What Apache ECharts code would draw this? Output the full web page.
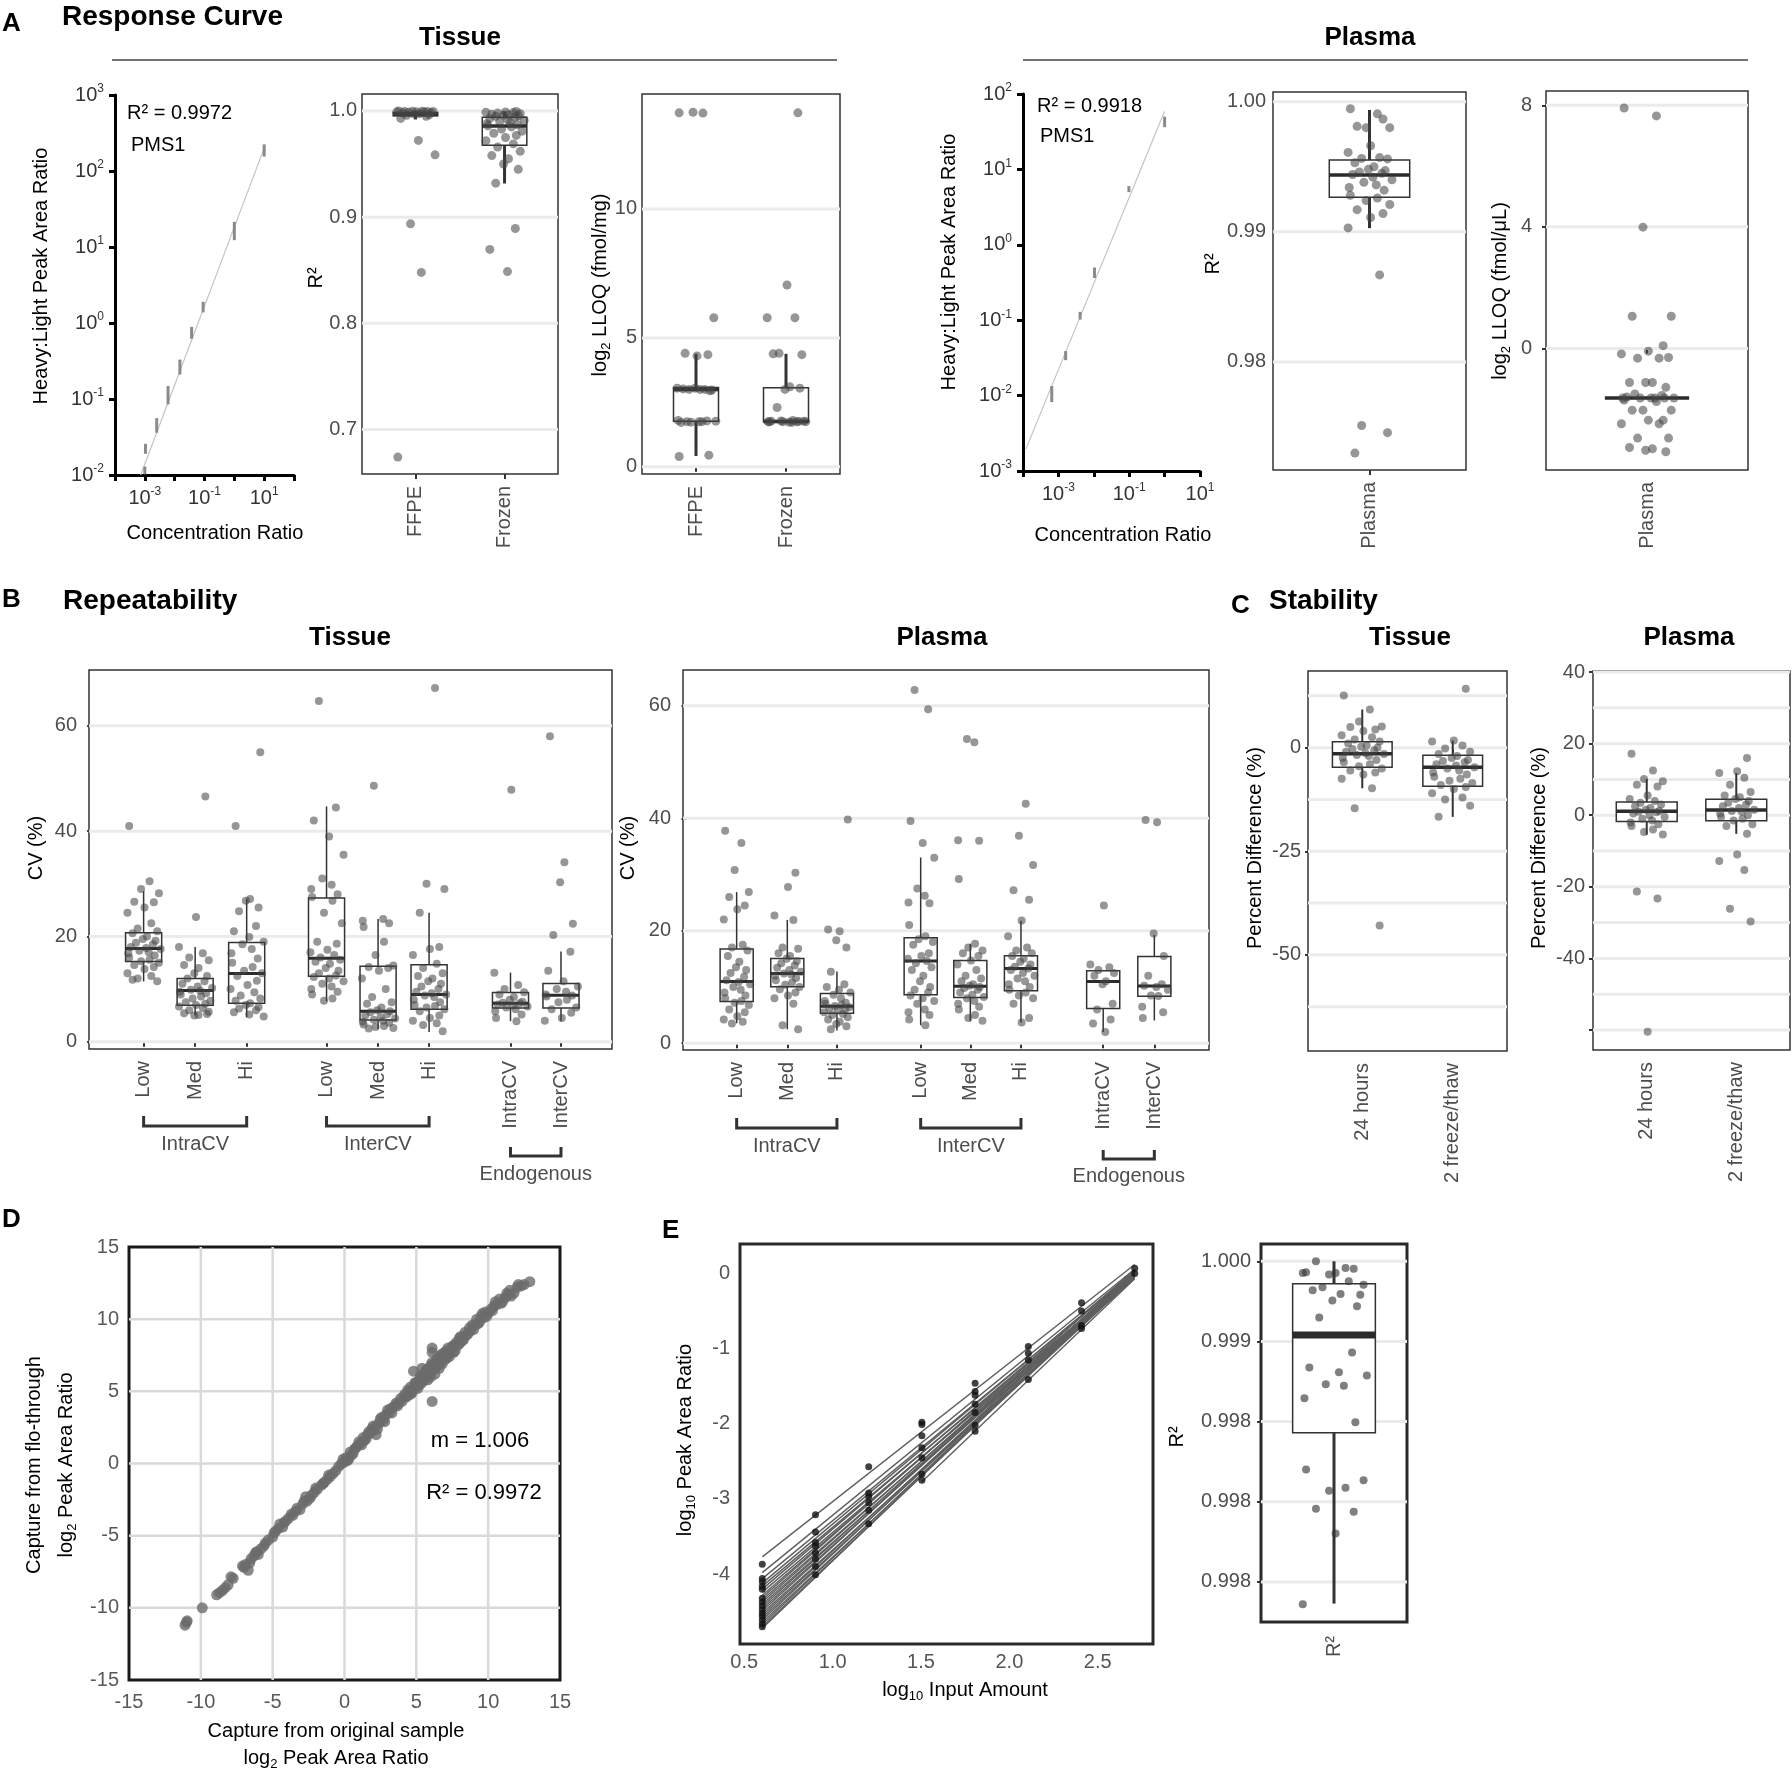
<!DOCTYPE html>
<html>
<head>
<meta charset="utf-8">
<title>PMS1 assay performance</title>
<script src="https://cdn.jsdelivr.net/npm/echarts@6.0.0/dist/echarts.min.js"></script>
<style>
  html, body { margin: 0; padding: 0; background: #fff; }
  #main { width: 1792px; height: 1775px; }
</style>
</head>
<body>
<div id="main"></div>
<script>
// ---------- A: response curve (PMS1) ----------
var tisConc    = [0.001, 0.00105, 0.0025, 0.006, 0.015, 0.037, 0.09, 1, 10];
var tisRatioLo = [0.0102, 0.019, 0.036, 0.085, 0.21, 0.62, 1.38, 12.3, 155];
var tisRatioHi = [0.0129, 0.0257, 0.056, 0.148, 0.33, 0.89, 1.9, 21.4, 224];
var tisFit     = [[0.00072, 0.0099], [10, 200]];
var plaConc    = [0.00065, 0.0016, 0.0041, 0.0105, 0.098, 1.0];
var plaRatioLo = [0.0082, 0.0295, 0.102, 0.363, 5.0, 36.3];
var plaRatioHi = [0.0134, 0.0389, 0.129, 0.50, 6.0, 50.1];
var plaFit     = [[0.00012, 0.00195], [1.0, 59]];

var tisTypes = ['FFPE', 'Frozen'];
// box stats: [low whisker, q1, median, q3, high whisker]
var tisR2Box = [[0.992, 0.9955, 0.9968, 0.9985, 1.0], [0.9317, 0.9678, 0.9858, 0.994, 0.9995]];
var tisR2Pts = [
  [1.0, 0.9998, 0.9997, 0.9996, 0.9995, 0.9994, 0.9993, 0.9992, 0.999, 0.9988, 0.9985, 0.998, 0.9975, 0.997,
   0.9965, 0.996, 0.995, 0.993, 0.9723, 0.9587, 0.8937, 0.8479, 0.6739],
  [0.9995, 0.999, 0.9988, 0.9985, 0.998, 0.9975, 0.997, 0.9965, 0.996, 0.9955, 0.995, 0.994, 0.993, 0.992, 0.991,
   0.99, 0.989, 0.988, 0.987, 0.986, 0.985, 0.983, 0.981, 0.979, 0.977, 0.975, 0.972, 0.969, 0.966, 0.962, 0.958,
   0.955, 0.95, 0.945, 0.932, 0.8893, 0.8696, 0.8487]
];
var tisLloqBox = [[0.42, 1.77, 3.0, 3.08, 4.38], [1.73, 1.75, 1.76, 3.07, 4.38]];
var tisLloqPts = [
  [13.73, 13.72, 13.75, 5.78, 4.4, 4.35, 4.3, 3.05, 3.0, 3.0, 2.98, 3.02, 3.0, 3.05, 2.95,
   1.75, 1.78, 1.72, 1.75, 1.77, 1.73, 1.75, 1.8, 0.45, 0.4],
  [13.73, 7.05, 5.78, 5.78, 4.4, 4.35, 4.38, 3.1, 3.0, 3.05, 2.3, 1.75, 1.77, 1.73, 1.75, 1.78,
   1.72, 1.75, 1.76, 1.74, 1.8, 1.75, 1.77]
];
var plaTypes = ['Plasma'];
var plaR2Box = [[0.99028, 0.99265, 0.99436, 0.99551, 0.99936]];
var plaR2Pts = [[0.99945, 0.99906, 0.998, 0.998, 0.9981, 0.99867, 0.99661, 0.9961, 0.9957, 0.99564, 0.9956, 0.9953,
  0.995, 0.9948, 0.9947, 0.9946, 0.9945, 0.9944, 0.9942, 0.994, 0.9938, 0.9936, 0.9934, 0.9932, 0.9928, 0.9926,
  0.9924, 0.9921, 0.9917, 0.9914, 0.9911, 0.9903, 0.98669, 0.97512, 0.97457, 0.973]];
var plaLloqBox = [[-1.63, -1.63, -1.63, -1.63, -1.63]];
var plaLloqPts = [[7.91, 7.65, 3.99, 1.06, 1.06, 0.09, -0.09, -0.18, -0.32, -0.32, -0.3, -1.12, -1.12, -1.12, -1.28,
  -1.5, -1.55, -1.6, -1.63, -1.63, -1.63, -1.63, -1.63, -1.63, -1.7, -1.75, -2.03, -2.03, -2.03, -2.36, -2.36,
  -2.48, -2.48, -2.95, -2.95, -3.26, -3.3, -3.35, -3.4]];

// ---------- B: repeatability ----------
var cvCats = ['Low', 'Med', 'Hi', 'Low', 'Med', 'Hi', 'IntraCV', 'InterCV'];
var cvGroups = ['IntraCV', 'InterCV', 'Endogenous'];
var cvTisBox = [
  [11.47, 15.24, 17.73, 20.7, 28.6], [5.05, 6.94, 9.73, 12.0, 18.0], [4.68, 7.32, 12.98, 18.87, 27.1],
  [7.7, 12.45, 15.85, 27.3, 44.7], [2.41, 4.15, 5.81, 14.34, 23.3], [1.88, 6.19, 8.98, 14.64, 24.5],
  [3.92, 6.41, 7.32, 9.36, 13.13], [3.92, 6.41, 8.83, 11.09, 17.13]
];
var cvTisPts = [
  [41.0, 30.5, 29.0, 28.2, 26.6, 26.5, 25.5, 24.5, 22.5, 21.5, 21.0, 20.6, 20.0, 19.5, 19.2, 18.8, 18.5, 18.0, 17.8,
   17.6, 17.3, 17.0, 16.8, 16.4, 16.0, 15.6, 15.3, 15.0, 14.6, 14.2, 13.8, 13.0, 12.5, 12.0, 11.5, 11.8],
  [46.6, 23.7, 18.0, 16.8, 16.0, 15.5, 14.6, 14.0, 13.0, 12.5, 12.0, 11.5, 11.0, 10.5, 10.2, 9.9, 9.7, 9.5, 9.2,
   9.0, 8.6, 8.2, 7.8, 7.5, 7.2, 7.0, 6.7, 6.4, 6.0, 5.7, 5.4, 5.1, 5.0, 5.3],
  [55.0, 41.0, 27.1, 26.8, 25.5, 24.8, 22.0, 21.0, 19.9, 19.0, 18.5, 17.6, 16.8, 15.8, 15.0, 14.2, 13.5, 13.0,
   12.5, 11.6, 10.8, 10.0, 9.4, 8.8, 8.2, 7.8, 7.3, 7.0, 6.6, 6.3, 6.0, 5.6, 5.2, 4.8],
  [64.7, 44.5, 42.0, 39.0, 35.5, 31.0, 29.8, 29.0, 28.0, 27.5, 26.8, 24.5, 22.5, 19.0, 18.6, 17.5, 17.0, 16.5,
   16.0, 15.6, 15.2, 14.8, 14.0, 13.5, 13.0, 12.6, 12.3, 12.0, 11.5, 11.0, 10.5, 10.0, 9.5, 9.0, 8.2, 7.8],
  [48.6, 23.3, 23.0, 22.5, 21.8, 19.0, 16.5, 14.5, 14.2, 14.0, 13.5, 12.0, 10.0, 8.5, 7.5, 7.2, 6.5, 6.0, 5.8,
   5.6, 5.3, 5.0, 4.7, 4.4, 4.2, 4.0, 3.8, 3.6, 3.3, 3.0, 2.8, 2.6, 2.5],
  [67.2, 30.0, 29.0, 24.5, 18.0, 17.6, 16.5, 14.8, 14.0, 13.0, 12.5, 12.0, 11.5, 11.0, 10.5, 10.0, 9.5, 9.2, 9.0,
   8.8, 8.5, 8.0, 7.5, 7.0, 6.8, 6.5, 6.2, 5.8, 5.0, 4.5, 4.0, 3.5, 3.2, 2.0],
  [47.85, 13.1, 10.8, 10.0, 9.4, 9.0, 8.5, 8.0, 7.6, 7.4, 7.3, 7.1, 6.9, 6.7, 6.5, 6.2, 5.8, 5.2, 4.5, 3.9],
  [58.0, 34.1, 30.3, 22.4, 20.3, 17.1, 13.5, 11.5, 10.5, 10.0, 9.5, 9.0, 8.8, 8.6, 8.0, 7.5, 6.5, 6.2, 5.5, 4.5, 4.0]
];
var cvPlaBox = [
  [3.54, 7.43, 10.97, 16.76, 26.87], [2.48, 10.05, 12.38, 15.07, 21.92], [2.27, 5.31, 6.58, 8.84, 12.73],
  [3.19, 8.63, 14.64, 18.74, 33.03], [3.9, 8.13, 10.12, 14.71, 17.68], [3.68, 9.34, 13.3, 15.56, 21.78],
  [1.98, 6.15, 10.97, 12.87, 12.87], [4.04, 8.35, 10.19, 15.42, 19.24]
];
var cvPlaPts = [
  [37.8, 35.6, 30.8, 26.9, 26.0, 24.5, 23.8, 22.0, 17.5, 17.0, 16.5, 15.5, 14.5, 13.5, 13.0, 12.5, 11.8, 11.2,
   10.9, 10.5, 10.0, 9.5, 9.0, 8.5, 8.0, 7.5, 7.2, 6.8, 6.0, 5.5, 4.8, 4.2, 3.8, 3.5],
  [30.3, 27.8, 22.7, 21.9, 17.0, 16.8, 16.0, 15.5, 15.0, 14.6, 14.2, 13.8, 13.4, 13.0, 12.7, 12.4, 12.2, 12.0,
   11.6, 11.2, 10.8, 10.4, 10.0, 9.6, 9.0, 8.5, 8.0, 7.0, 3.2, 2.5],
  [39.8, 20.2, 19.9, 18.3, 17.0, 12.7, 10.5, 10.0, 9.5, 9.0, 8.6, 8.0, 7.5, 7.2, 7.0, 6.8, 6.6, 6.4, 6.2, 6.0,
   5.8, 5.5, 5.2, 5.0, 4.6, 4.2, 3.8, 3.4, 3.0, 2.5],
  [62.8, 59.4, 39.5, 35.6, 33.0, 27.5, 26.2, 25.0, 24.9, 21.0, 19.0, 18.5, 18.0, 17.5, 16.0, 15.5, 15.0, 14.6,
   14.2, 13.5, 13.0, 12.0, 11.0, 10.0, 9.5, 9.0, 8.5, 8.0, 7.5, 7.0, 6.0, 5.5, 5.0, 4.2, 3.2],
  [54.1, 53.5, 36.1, 36.0, 29.2, 17.7, 17.0, 16.5, 16.0, 15.5, 14.7, 14.0, 13.0, 12.0, 11.5, 11.0, 10.5, 10.2,
   10.0, 9.8, 9.5, 9.0, 8.6, 8.2, 8.0, 7.5, 7.0, 6.5, 6.0, 5.0, 4.5, 4.0],
  [42.6, 36.9, 31.7, 27.2, 25.5, 21.8, 19.0, 17.0, 16.5, 16.0, 15.5, 15.0, 14.5, 14.0, 13.6, 13.3, 13.0, 12.5,
   12.0, 11.5, 11.0, 10.5, 10.0, 9.5, 9.0, 8.5, 8.0, 7.0, 4.5, 3.7],
  [24.5, 14.0, 13.5, 13.0, 12.5, 12.0, 11.0, 10.5, 7.0, 6.0, 4.2, 3.5, 2.0],
  [39.7, 39.3, 19.5, 15.5, 12.0, 10.5, 10.2, 10.0, 9.5, 8.5, 8.4, 6.5, 5.5, 4.5]
];

// ---------- C: stability ----------
var stabCats = ['24 hours', '2 freeze/thaw'];
var stabTisBox = [[-9.8, -4.71, -1.44, 1.44, 9.21], [-16.7, -9.32, -4.71, -1.83, 1.72]];
var stabTisPts = [
  [12.6, 9.2, 6.3, 5.1, 5.0, 4.4, 4.0, 3.0, 2.5, 2.0, 1.5, 1.0, 0.5, 0.2, 0.0, -0.3, -0.6, -1.0, -1.3, -1.5, -1.8,
   -2.0, -2.5, -3.0, -3.5, -4.0, -4.5, -5.0, -5.5, -6.0, -6.5, -7.5, -9.8, -14.6, -42.9],
  [14.2, 1.7, 1.5, 0.5, -0.2, -1.0, -1.5, -2.0, -2.5, -3.0, -3.2, -3.5, -4.0, -4.3, -4.7, -5.0, -5.5, -6.0, -6.5,
   -7.0, -7.5, -8.0, -8.5, -9.0, -9.5, -10.0, -11.0, -12.0, -12.5, -14.0, -16.7]
];
var stabPlaBox = [[-5.45, -1.78, 1.11, 3.67, 10.1], [-5.2, -1.55, 1.45, 4.45, 11.8]];
var stabPlaPts = [
  [17.2, 12.5, 10.1, 9.5, 8.5, 8.0, 5.5, 4.5, 4.0, 3.5, 3.0, 2.5, 2.0, 1.5, 1.2, 1.0, 0.8, 0.5, 0.0, -0.5, -1.0,
   -1.5, -2.0, -2.5, -3.0, -4.0, -4.7, -5.4, -21.3, -23.3, -60.5],
  [16.0, 12.3, 11.8, 10.5, 8.5, 6.5, 5.5, 5.0, 4.5, 4.0, 3.5, 3.0, 2.5, 2.0, 1.5, 1.2, 1.0, 0.5, 0.0, -0.5, -1.0,
   -1.5, -2.5, -3.0, -5.2, -11.0, -12.8, -15.3, -26.1, -29.7]
];

// ---------- D: flo-through vs original (log2 peak area ratio) ----------
var captureOrigFlow = [
  [-11.1, -11.2], [-11.0, -11.0], [-10.95, -10.9], [-9.9, -10.0], [-8.9, -9.1], [-8.7, -8.95], [-8.5, -8.8],
  [-8.3, -8.6], [-8.1, -8.4], [-7.9, -7.85], [-7.75, -7.95], [-7.1, -7.1], [-7.0, -7.2], [-6.9, -7.0], [-6.7, -7.4],
  [-6.6, -6.9], [-6.5, -6.6], [-6.3, -6.4], [-6.2, -6.2], [-6.1, -6.1], [-6.0, -6.3], [-5.8, -5.9], [-5.6, -5.7],
  [-5.5, -5.5], [-5.3, -5.3], [-5.0, -5.1], [-4.9, -4.8], [-4.8, -4.7], [-4.6, -4.5], [-4.5, -4.2], [-4.3, -4.4],
  [-4.2, -4.1], [-4.1, -4.0], [-3.9, -3.8], [-3.7, -3.5], [-3.6, -3.6], [-3.4, -3.3], [-3.3, -3.1], [-3.1, -3.2],
  [-2.9, -2.8], [-2.8, -2.6], [-2.7, -2.3], [-2.6, -2.6], [-2.4, -2.4], [-2.3, -2.2], [-2.1, -2.0], [-2.0, -1.7],
  [-1.9, -1.8], [-1.6, -1.5], [-1.5, -1.4], [-1.4, -1.3], [-1.2, -1.1], [-1.1, -0.8], [-1.0, -0.9], [-0.8, -0.7],
  [-0.6, -0.5], [-0.4, -0.2], [-0.2, 0.0], [-0.1, 0.3], [0.0, 0.1], [0.1, 0.4], [0.2, 0.2], [0.3, 0.3], [0.4, 0.8],
  [0.5, 0.6], [0.6, 0.7], [0.7, 1.0], [0.8, 1.1], [0.9, 1.2], [1.0, 1.5], [1.1, 1.4], [1.2, 1.3], [1.3, 1.8],
  [1.4, 1.6], [1.5, 1.7], [1.6, 2.0], [1.7, 2.2], [1.8, 2.1], [1.9, 2.4], [2.0, 2.3], [2.0, 2.6], [2.2, 2.6],
  [2.2, 2.0], [2.3, 2.4], [2.4, 2.8], [2.5, 3.1], [2.6, 3.2], [2.7, 3.0], [2.8, 2.9], [2.9, 3.4], [3.0, 3.7],
  [3.1, 3.5], [3.2, 3.8], [3.3, 3.5], [3.4, 3.9], [3.5, 4.0], [3.6, 4.2], [3.7, 4.0], [3.8, 4.2], [3.9, 4.5],
  [4.0, 4.3], [4.1, 4.6], [4.2, 4.8], [4.3, 4.6], [4.4, 4.7], [4.4, 5.1], [4.5, 5.0], [4.6, 5.3], [4.6, 4.8],
  [4.7, 4.9], [4.8, 6.4], [4.9, 5.4], [4.9, 5.6], [5.0, 5.6], [5.0, 5.3], [5.1, 5.2], [5.2, 5.8], [5.2, 5.5],
  [5.3, 5.5], [5.3, 6.1], [5.4, 6.0], [5.4, 6.6], [5.5, 5.7], [5.5, 6.0], [5.6, 6.3], [5.6, 5.9], [5.7, 6.1],
  [5.7, 6.5], [5.8, 5.8], [5.8, 6.3], [5.9, 6.6], [5.9, 6.2], [6.0, 6.4], [6.0, 6.0], [6.0, 6.8], [6.1, 7.0],
  [6.1, 8.0], [6.1, 7.7], [6.1, 4.3], [6.2, 6.7], [6.2, 6.5], [6.3, 6.9], [6.3, 6.2], [6.4, 7.2], [6.4, 6.7],
  [6.5, 6.8], [6.5, 7.3], [6.6, 7.1], [6.6, 6.6], [6.7, 7.5], [6.7, 7.0], [6.8, 6.9], [6.8, 7.6], [6.9, 7.4],
  [7.0, 7.7], [7.0, 7.2], [7.1, 7.3], [7.1, 7.8], [7.2, 8.0], [7.3, 7.6], [7.3, 7.4], [7.4, 7.9], [7.5, 8.1],
  [7.6, 8.2], [7.6, 7.7], [7.7, 7.8], [7.8, 8.4], [7.9, 8.2], [8.0, 8.3], [8.0, 8.7], [8.1, 8.8], [8.2, 8.5],
  [8.3, 8.6], [8.4, 9.1], [8.5, 8.9], [8.6, 9.0], [8.7, 9.4], [8.8, 9.2], [8.9, 9.6], [9.0, 9.3], [9.1, 9.6],
  [9.2, 10.0], [9.3, 9.7], [9.4, 9.8], [9.5, 10.2], [9.6, 10.4], [9.7, 10.1], [9.8, 10.5], [9.9, 10.2],
  [10.0, 10.4], [10.2, 10.7], [10.3, 10.6], [10.4, 10.9], [10.5, 11.2], [10.6, 11.0], [10.8, 11.4], [10.9, 11.1],
  [11.0, 11.2], [11.2, 11.5], [11.3, 11.8], [11.4, 11.7], [11.5, 12.0], [11.6, 11.6], [11.8, 11.8], [12.0, 12.2],
  [12.1, 12.4], [12.3, 12.3], [12.5, 12.4], [12.9, 12.6]
];

// ---------- E: linearity (log10 input amount vs log10 peak area ratio) ----------
var inputAmount = [4, 8, 16, 32, 64, 128, 256, 512];
var peakRatioDots = [
  [-3.87, -4.06, -4.1, -4.16, -4.2, -4.32, -4.37, -4.42, -4.47, -4.52, -4.56, -4.61, -4.66, -4.7],
  [-3.21, -3.44, -3.58, -3.63, -3.72, -3.8, -3.9, -4.01],
  [-2.57, -2.92, -2.97, -3.05, -3.15, -3.33],
  [-1.98, -2.01, -2.16, -2.32, -2.45, -2.67, -2.75],
  [-1.46, -1.57, -1.62, -1.74, -1.85, -2.02, -2.1],
  [-0.97, -1.06, -1.15, -1.41],
  [-0.39, -0.5, -0.69, -0.73],
  [0.07, 0.0]
];
// fitted lines: [start amount, log10 ratio, end amount, log10 ratio]
var fitLines = [
  [4, -3.77, 512, 0.12], [4, -3.98, 512, 0.06], [4, -4.06, 512, 0.02], [4, -4.12, 512, 0.04], [4, -4.16, 512, -0.02],
  [4, -4.2, 512, 0.03], [4, -4.24, 512, -0.04], [4, -4.28, 512, 0.0], [4, -4.31, 512, 0.05], [4, -4.34, 512, -0.03],
  [4, -4.37, 512, 0.01], [4, -4.4, 512, -0.05], [4, -4.43, 512, 0.02], [4, -4.46, 512, -0.01], [4, -4.49, 512, 0.04],
  [4, -4.52, 512, -0.06], [4, -4.55, 512, 0.0], [4, -4.58, 512, -0.03], [4, -4.61, 512, 0.03], [4, -4.64, 512, -0.05],
  [4, -4.67, 512, 0.01], [4, -4.7, 512, -0.02], [4, -4.72, 512, 0.02], [32, -2.77, 512, -0.07]
];
var linR2Box = [[0.997865, 0.99893, 0.99954, 0.99986, 1.0]];
var linR2Pts = [[0.999931, 0.999958, 0.999917, 0.999854, 1.0, 0.999954, 0.999927, 0.999927, 0.999875, 0.999838,
  0.999792, 0.999819, 0.999796, 0.999756, 0.999719, 0.99965, 0.999431, 0.999337, 0.999308, 0.999288, 0.999233,
  0.999223, 0.999146, 0.998996, 0.998702, 0.998587, 0.998569, 0.998635, 0.998456, 0.998438, 0.998302, 0.99786]];
var linR2Ticks = [1.0, 0.9995, 0.999, 0.9985, 0.998];
var linR2TickLabels = ['1.000', '0.999', '0.998', '0.998', '0.998'];

// ================= build =================
var FONT = '"Liberation Sans", Arial, Helvetica, sans-serif';
var JIT = [-0.85, 0.35, -0.15, 0.9, -0.55, 0.6, 0.05, -0.95, 0.45, -0.35, 0.8, -0.65, 0.2, -0.05, 0.7, -0.45,
  0.55, -0.75, 0.15, 1.0, -0.25, 0.3, -0.9, 0.65];
var grids = [], xAxes = [], yAxes = [], series = [], gfx = [];

function nearest(arr, v) {
  var b = 0;
  for (var k = 1; k < arr.length; k++) if (Math.abs(arr[k] - v) < Math.abs(arr[b] - v)) b = k;
  return b;
}
function px(s, v) { return s.l + (v - s.x0) / (s.x1 - s.x0) * s.w; }
function lab(extra) {
  var o = { color: '#4d4d4d', fontSize: 20, fontFamily: FONT };
  for (var k in extra) o[k] = extra[k];
  return o;
}
function panel(s) {
  var i = grids.length;
  grids.push({ left: s.l, top: s.t, width: s.w, height: s.h, show: !!s.border, borderWidth: s.border || 0,
    borderColor: s.bc || '#333', backgroundColor: 'rgba(0,0,0,0)', outerBoundsMode: 'none', containLabel: false });
  return i;
}
function catX(gi, s, xs, names, margin) {
  xAxes.push({ gridIndex: gi, type: 'value', min: s.x0, max: s.x1, axisLine: { show: false }, splitLine: { show: false },
    axisTick: { show: true, customValues: xs, length: 5, lineStyle: { color: '#333', width: 2 } },
    axisLabel: lab({ customValues: xs, rotate: 90, margin: margin || 12,
      formatter: function (v) { return names[nearest(xs, v)]; } }) });
}
function valY(gi, s, ticks, labels, fmt, margin, tickLen) {
  yAxes.push({ gridIndex: gi, type: 'value', min: s.y0, max: s.y1, axisLine: { show: false }, splitLine: { show: false },
    axisTick: { show: tickLen > 0, customValues: ticks, length: tickLen || 0, lineStyle: { color: '#333', width: 2 } },
    axisLabel: lab({ customValues: labels, margin: margin, formatter: fmt }) });
}
function hLines(gi, s, vals, color, width) {
  series.push({ type: 'custom', xAxisIndex: gi, yAxisIndex: gi, z: 1, silent: true,
    data: vals.map(function (v) { return [s.x0, v]; }),
    renderItem: function (params, api) {
      var cs = params.coordSys, y = api.coord([api.value(0), api.value(1)])[1];
      return { type: 'line', shape: { x1: cs.x, y1: y, x2: cs.x + cs.width, y2: y }, style: { stroke: color, lineWidth: width } };
    } });
}
function vLines(gi, s, vals, color, width) {
  series.push({ type: 'custom', xAxisIndex: gi, yAxisIndex: gi, z: 1, silent: true,
    data: vals.map(function (v) { return [v, s.y0]; }),
    renderItem: function (params, api) {
      var cs = params.coordSys, x = api.coord([api.value(0), api.value(1)])[0];
      return { type: 'line', shape: { x1: x, y1: cs.y, x2: x, y2: cs.y + cs.height }, style: { stroke: color, lineWidth: width } };
    } });
}
function boxes(gi, xs, stats, halfW, st) {
  series.push({ type: 'custom', xAxisIndex: gi, yAxisIndex: gi, z: 3, silent: true,
    data: stats.map(function (b, i) { return [xs[i], b[0], b[1], b[2], b[3], b[4]]; }),
    renderItem: function (params, api) {
      var x = api.value(0);
      var p = [1, 2, 3, 4, 5].map(function (d) { return api.coord([x, api.value(d)]); });
      var xl = api.coord([x - halfW, api.value(3)])[0], xr = api.coord([x + halfW, api.value(3)])[0];
      var sk = { stroke: '#333', lineWidth: st.whisker };
      return { type: 'group', children: [
        { type: 'line', shape: { x1: p[0][0], y1: p[0][1], x2: p[1][0], y2: p[1][1] }, style: sk },
        { type: 'line', shape: { x1: p[3][0], y1: p[3][1], x2: p[4][0], y2: p[4][1] }, style: sk },
        { type: 'rect', shape: { x: xl, y: p[3][1], width: xr - xl, height: p[1][1] - p[3][1] },
          style: { fill: '#fff', stroke: '#333', lineWidth: st.edge } },
        { type: 'line', shape: { x1: xl, y1: p[2][1], x2: xr, y2: p[2][1] }, style: { stroke: '#2b2b2b', lineWidth: st.median } }
      ] };
    } });
}
function points(gi, xs, pts, jw, size, color) {
  var data = [];
  pts.forEach(function (arr, ci) {
    arr.forEach(function (v, j) { data.push([xs[ci] + JIT[(j + ci * 5) % JIT.length] * jw, v]); });
  });
  series.push({ type: 'scatter', xAxisIndex: gi, yAxisIndex: gi, z: 4, silent: true, symbolSize: size,
    data: data, itemStyle: { color: color } });
}
function txt(x, y, text, o) {
  o = o || {};
  var st = { text: text, fill: o.color || '#000', fontSize: o.size || 20, fontFamily: FONT,
    fontWeight: o.bold ? 'bold' : 'normal', align: o.align || 'center', verticalAlign: 'middle',
    textAlign: o.align || 'center', textVerticalAlign: 'middle' };
  if (o.rich) { st.rich = o.rich; st.lineHeight = 26; }
  gfx.push({ type: 'text', x: x, y: y, rotation: o.rot || 0, silent: true, z: 100, style: st });
}
var SUB = { sub: { fontSize: 13, lineHeight: 13, verticalAlign: 'bottom', fontFamily: FONT, fill: '#000', color: '#000' } };
function hline(x1, y1, x2, y2, w, c) {
  gfx.push({ type: 'line', silent: true, z: 100, shape: { x1: x1, y1: y1, x2: x2, y2: y2 }, style: { stroke: c || '#444', lineWidth: w } });
}
function bracket(x1, x2, yTop, yBot) {
  gfx.push({ type: 'polyline', silent: true, z: 100, shape: { points: [[x1, yTop], [x1, yBot], [x2, yBot], [x2, yTop]] },
    style: { stroke: '#333', lineWidth: 3, fill: null } });
}

// ----- response curve panels -----
function expLabel(v) { return '10{s|' + v + '}'; }
var EXPRICH = { s: { fontSize: 12, lineHeight: 12, verticalAlign: 'top', color: '#333', fontFamily: FONT } };
function responsePanel(s, conc, lo, hi, fit) {
  var gi = panel(s);
  xAxes.push({ gridIndex: gi, type: 'value', min: s.x0, max: s.x1, interval: 1, splitLine: { show: false },
    axisLine: { show: true, onZero: false, lineStyle: { color: '#000', width: 3 } },
    axisTick: { show: true, length: 6, lineStyle: { color: '#000', width: 3 } },
    axisLabel: { color: '#333', fontSize: 20, fontFamily: FONT, margin: 11, lineHeight: 24, rich: EXPRICH,
      formatter: function (v) { return (v % 2 !== 0) ? expLabel(v) : ''; } } });
  yAxes.push({ gridIndex: gi, type: 'value', min: s.y0, max: s.y1, interval: 1, splitLine: { show: false },
    axisLine: { show: true, onZero: false, lineStyle: { color: '#000', width: 3 } },
    axisTick: { show: true, length: 6, lineStyle: { color: '#000', width: 3 } },
    axisLabel: { color: '#333', fontSize: 20, fontFamily: FONT, margin: 11, lineHeight: 24, rich: EXPRICH,
      formatter: function (v) { return expLabel(v); } } });
  series.push({ type: 'line', xAxisIndex: gi, yAxisIndex: gi, z: 2, silent: true, symbol: 'none',
    data: fit.map(function (p) { return [Math.log10(p[0]), Math.log10(p[1])]; }),
    lineStyle: { color: '#c4c4c4', width: 1.2 } });
  series.push({ type: 'custom', xAxisIndex: gi, yAxisIndex: gi, z: 3, silent: true,
    data: conc.map(function (c, i) { return [Math.log10(c), Math.log10(lo[i]), Math.log10(hi[i])]; }),
    renderItem: function (params, api) {
      var a = api.coord([api.value(0), api.value(1)]), b = api.coord([api.value(0), api.value(2)]);
      return { type: 'line', shape: { x1: a[0], y1: a[1], x2: b[0], y2: b[1] }, style: { stroke: '#8a8a8a', lineWidth: 3 } };
    } });
}

var sA1 = { l: 115, t: 95, w: 179, h: 380, x0: -4, x1: 2, y0: -2, y1: 3 };
var sA2 = { l: 362, t: 94, w: 196, h: 380, x0: 0.4, x1: 2.6, y0: 0.658, y1: 1.016, border: 1.5 };
var sA3 = { l: 642, t: 94, w: 198, h: 380, x0: 0.4, x1: 2.6, y0: -0.28, y1: 14.46, border: 1.5 };
var sA4 = { l: 1023, t: 94, w: 177, h: 377, x0: -4, x1: 1, y0: -3, y1: 2 };
var sA5 = { l: 1273, t: 92, w: 193, h: 378, x0: 0.4, x1: 1.6, y0: 0.9717, y1: 1.00074, border: 1.5 };
var sA6 = { l: 1546, t: 91, w: 202, h: 379, x0: 0.4, x1: 1.6, y0: -4.0, y1: 8.47, border: 1.5 };
var sB1 = { l: 89, t: 670, w: 523, h: 379, x0: -0.06, x1: 10.09, y0: -1.37, y1: 70.6, border: 1.5 };
var sB2 = { l: 683, t: 670, w: 526, h: 380, x0: -0.07, x1: 10.42, y0: -1.21, y1: 66.37, border: 1.5 };
var sC1 = { l: 1308, t: 671, w: 199, h: 380, x0: 0.4, x1: 2.6, y0: -73.2, y1: 18.5, border: 1.5 };
var sC2 = { l: 1593, t: 671, w: 197, h: 379, x0: 0.4, x1: 2.6, y0: -65.6, y1: 40.3, border: 1.5 };
var sD  = { l: 129, t: 1247, w: 431, h: 433, x0: -15, x1: 15, y0: -15, y1: 15, border: 3, bc: '#1a1a1a' };
var sE1 = { l: 740, t: 1244, w: 413, h: 400, x0: 0.476, x1: 2.8126, y0: -4.93, y1: 0.393, border: 3, bc: '#2a2a2a' };
var sE2 = { l: 1261, t: 1244, w: 146, h: 378, x0: 0.4, x1: 1.6, y0: 0.99775, y1: 1.000108, border: 3, bc: '#2a2a2a' };

var PT = 'rgba(68,68,68,0.7)';
var BOXA = { whisker: 3, edge: 1.5, median: 3.5 };

// A1, A4
responsePanel(sA1, tisConc, tisRatioLo, tisRatioHi, tisFit);
responsePanel(sA4, plaConc, plaRatioLo, plaRatioHi, plaFit);

// A2
(function () {
  var gi = panel(sA2), xs = [1, 2];
  catX(gi, sA2, xs, tisTypes, 12);
  var t = [0.7, 0.8, 0.9, 1.0];
  valY(gi, sA2, t, t, function (v) { return v.toFixed(1); }, 5, 0);
  hLines(gi, sA2, t, '#ebebeb', 3);
  boxes(gi, xs, tisR2Box, 0.25, BOXA);
  points(gi, xs, tisR2Pts, 0.22, 9, PT);
})();
// A3
(function () {
  var gi = panel(sA3), xs = [1, 2];
  catX(gi, sA3, xs, tisTypes, 12);
  var t = [0, 5, 10];
  valY(gi, sA3, t, t, function (v) { return String(v); }, 5, 0);
  hLines(gi, sA3, t, '#ebebeb', 3);
  boxes(gi, xs, tisLloqBox, 0.25, BOXA);
  points(gi, xs, tisLloqPts, 0.22, 9, PT);
})();
// A5
(function () {
  var gi = panel(sA5), xs = [1];
  catX(gi, sA5, xs, plaTypes, 12);
  var t = [0.98, 0.99, 1.0];
  valY(gi, sA5, t, t, function (v) { return v.toFixed(2); }, 7, 0);
  hLines(gi, sA5, t, '#ebebeb', 3);
  boxes(gi, xs, plaR2Box, 0.25, BOXA);
  points(gi, xs, plaR2Pts, 0.14, 9, PT);
})();
// A6
(function () {
  var gi = panel(sA6), xs = [1];
  catX(gi, sA6, xs, plaTypes, 12);
  var t = [0, 4, 8];
  valY(gi, sA6, t, t, function (v) { return String(v); }, 14, 4);
  hLines(gi, sA6, t, '#ebebeb', 3);
  boxes(gi, xs, plaLloqBox, 0.25, BOXA);
  points(gi, xs, plaLloqPts, 0.16, 9, PT);
})();

// B1, B2
var cvPosT = [1, 2, 3, 4.55, 5.55, 6.54, 8.12, 9.1];
var cvPosP = [1, 2.01, 3.0, 4.67, 5.66, 6.67, 8.31, 9.33];
function cvPanel(s, xs, box, pts, hw, jw) {
  var gi = panel(s);
  catX(gi, s, xs, cvCats, 12);
  var t = [0, 20, 40, 60];
  valY(gi, s, t, t, function (v) { return String(v); }, 12, 5);
  hLines(gi, s, t, '#ebebeb', 3);
  boxes(gi, xs, box, hw, { whisker: 1.5, edge: 1.5, median: 3 });
  points(gi, xs, pts, jw, 8, PT);
}
cvPanel(sB1, cvPosT, cvTisBox, cvTisPts, 0.35, 0.33);
cvPanel(sB2, cvPosP, cvPlaBox, cvPlaPts, 0.33, 0.27);

// C1, C2
(function () {
  var gi = panel(sC1), xs = [1, 2];
  catX(gi, sC1, xs, stabCats, 12);
  var t = [0, -25, -50];
  valY(gi, sC1, t, t, function (v) { return String(v); }, 7, 3);
  hLines(gi, sC1, [12.5, 0, -12.5, -25, -37.5, -50, -62.5], '#ebebeb', 3);
  boxes(gi, xs, stabTisBox, 0.33, { whisker: 2, edge: 1.5, median: 3.5 });
  points(gi, xs, stabTisPts, 0.24, 8, PT);
})();
(function () {
  var gi = panel(sC2), xs = [1, 2];
  catX(gi, sC2, xs, stabCats, 12);
  valY(gi, sC2, [40, 20, 0, -20, -40, -60], [40, 20, 0, -20, -40], function (v) { return String(v); }, 8, 4);
  hLines(gi, sC2, [40, 30, 20, 10, 0, -10, -20, -30, -40, -50, -60], '#ebebeb', 3);
  boxes(gi, xs, stabPlaBox, 0.34, { whisker: 2, edge: 1.5, median: 3.5 });
  points(gi, xs, stabPlaPts, 0.2, 8, PT);
})();

// D
(function () {
  var gi = panel(sD);
  xAxes.push({ gridIndex: gi, type: 'value', min: -15, max: 15, interval: 5, axisLine: { show: false },
    axisTick: { show: false }, splitLine: { show: false }, axisLabel: lab({ color: '#595959', margin: 12 }) });
  yAxes.push({ gridIndex: gi, type: 'value', min: -15, max: 15, interval: 5, axisLine: { show: false },
    axisTick: { show: false }, splitLine: { show: false }, axisLabel: lab({ color: '#595959', margin: 10 }) });
  hLines(gi, sD, [-10, -5, 0, 5, 10], '#d9d9d9', 2.5);
  vLines(gi, sD, [-10, -5, 0, 5, 10], '#d9d9d9', 2.5);
  series.push({ type: 'scatter', xAxisIndex: gi, yAxisIndex: gi, z: 4, silent: true, symbolSize: 11,
    data: captureOrigFlow, itemStyle: { color: '#6b6b6b' } });
})();

// E1
(function () {
  var gi = panel(sE1);
  var xt = [0.5, 1.0, 1.5, 2.0, 2.5], yt = [0, -1, -2, -3, -4];
  xAxes.push({ gridIndex: gi, type: 'value', min: sE1.x0, max: sE1.x1, axisLine: { show: false }, splitLine: { show: false },
    axisTick: { show: false }, axisLabel: lab({ customValues: xt, margin: 8, color: '#555', formatter: function (v) { return v.toFixed(1); } }) });
  yAxes.push({ gridIndex: gi, type: 'value', min: sE1.y0, max: sE1.y1, axisLine: { show: false }, splitLine: { show: false },
    axisTick: { show: false }, axisLabel: lab({ customValues: yt, margin: 10, color: '#555', formatter: function (v) { return String(v); } }) });
  series.push({ type: 'custom', xAxisIndex: gi, yAxisIndex: gi, z: 3, silent: true,
    data: fitLines.map(function (f) { return [Math.log10(f[0]), f[1], Math.log10(f[2]), f[3]]; }),
    renderItem: function (params, api) {
      var a = api.coord([api.value(0), api.value(1)]), b = api.coord([api.value(2), api.value(3)]);
      return { type: 'line', shape: { x1: a[0], y1: a[1], x2: b[0], y2: b[1] }, style: { stroke: '#5e5e5e', lineWidth: 1.4 } };
    } });
  var dots = [];
  peakRatioDots.forEach(function (arr, i) { arr.forEach(function (v) { dots.push([Math.log10(inputAmount[i]), v]); }); });
  series.push({ type: 'scatter', xAxisIndex: gi, yAxisIndex: gi, z: 4, silent: true, symbolSize: 7,
    data: dots, itemStyle: { color: '#111' } });
})();

// E2
(function () {
  var gi = panel(sE2), xs = [1];
  catX(gi, sE2, xs, ['R²'], 14);
  xAxes[xAxes.length - 1].axisTick.show = false;
  valY(gi, sE2, linR2Ticks, linR2Ticks, function (v) { return linR2TickLabels[nearest(linR2Ticks, v)]; }, 10, 4);
  hLines(gi, sE2, linR2Ticks, '#ebebeb', 3);
  boxes(gi, xs, linR2Box, 0.34, { whisker: 3, edge: 1.5, median: 7 });
  points(gi, xs, linR2Pts, 0.27, 8, 'rgba(55,55,55,0.8)');
})();

// ----- titles, axis titles, annotations -----
txt(2, 24, 'A', { bold: true, size: 26, align: 'left' });
txt(62, 17, 'Response Curve', { bold: true, size: 28, align: 'left' });
txt(460, 38, 'Tissue', { bold: true, size: 26 });
hline(112, 60, 837, 60, 1.5);
txt(1370, 38, 'Plasma', { bold: true, size: 26 });
hline(1023, 60, 1748, 60, 1.5);

txt(127, 113, 'R² = 0.9972', { align: 'left' });
txt(131, 145, 'PMS1', { align: 'left' });
txt(1037, 106, 'R² = 0.9918', { align: 'left' });
txt(1040, 136, 'PMS1', { align: 'left' });

txt(41, 276, 'Heavy:Light Peak Area Ratio', { rot: Math.PI / 2 });
txt(215, 533, 'Concentration Ratio');
txt(316, 278, 'R²', { rot: Math.PI / 2 });
txt(600, 285, 'log{sub|2} LLOQ (fmol/mg)', { rot: Math.PI / 2, rich: SUB });
txt(949, 262, 'Heavy:Light Peak Area Ratio', { rot: Math.PI / 2 });
txt(1123, 535, 'Concentration Ratio');
txt(1213, 264, 'R²', { rot: Math.PI / 2 });
txt(1500, 291, 'log{sub|2} LLOQ (fmol/μL)', { rot: Math.PI / 2, rich: SUB });

txt(2, 600, 'B', { bold: true, size: 26, align: 'left' });
txt(63, 601, 'Repeatability', { bold: true, size: 28, align: 'left' });
txt(350, 638, 'Tissue', { bold: true, size: 26 });
txt(942, 638, 'Plasma', { bold: true, size: 26 });
txt(36, 848, 'CV (%)', { rot: Math.PI / 2 });
txt(628, 848, 'CV (%)', { rot: Math.PI / 2 });

function cvBrackets(s, xs, yTop, yBot, yLab, yTop2, yBot2, yLab2) {
  var sets = [[0, 2], [3, 5]];
  sets.forEach(function (g, k) {
    var a = px(s, xs[g[0]]), b = px(s, xs[g[1]]);
    bracket(a, b, yTop, yBot);
    txt((a + b) / 2, yLab, cvGroups[k], { color: '#4d4d4d' });
  });
  var a = px(s, xs[6]), b = px(s, xs[7]);
  bracket(a, b, yTop2, yBot2);
  txt((a + b) / 2, yLab2, cvGroups[2], { color: '#4d4d4d' });
}
cvBrackets(sB1, cvPosT, 1116, 1126, 1144, 1147, 1156, 1174);
cvBrackets(sB2, cvPosP, 1118, 1128, 1146, 1150, 1159, 1176);

txt(1231, 606, 'C', { bold: true, size: 26, align: 'left' });
txt(1269, 601, 'Stability', { bold: true, size: 28, align: 'left' });
txt(1410, 638, 'Tissue', { bold: true, size: 26 });
txt(1689, 638, 'Plasma', { bold: true, size: 26 });
txt(1255, 848, 'Percent Difference (%)', { rot: Math.PI / 2 });
txt(1539, 848, 'Percent Difference (%)', { rot: Math.PI / 2 });

txt(2, 1220, 'D', { bold: true, size: 26, align: 'left' });
txt(34, 1465, 'Capture from flo-through', { rot: Math.PI / 2 });
txt(66, 1465, 'log{sub|2} Peak Area Ratio', { rot: Math.PI / 2, rich: SUB });
txt(336, 1731, 'Capture from original sample');
txt(336, 1758, 'log{sub|2} Peak Area Ratio', { rich: SUB });
txt(480, 1441, 'm = 1.006', { size: 22 });
txt(484, 1493, 'R² = 0.9972', { size: 22 });

txt(662, 1231, 'E', { bold: true, size: 26, align: 'left' });
txt(685, 1440, 'log{sub|10} Peak Area Ratio', { rot: Math.PI / 2, rich: SUB });
txt(965, 1690, 'log{sub|10} Input Amount', { rich: SUB });
txt(1177, 1437, 'R²', { rot: Math.PI / 2 });

var chart = echarts.init(document.getElementById('main'));
chart.setOption({
  animation: false,
  backgroundColor: '#fff',
  textStyle: { fontFamily: FONT },
  grid: grids,
  xAxis: xAxes,
  yAxis: yAxes,
  series: series,
  graphic: { elements: gfx }
});
</script>
</body>
</html>
